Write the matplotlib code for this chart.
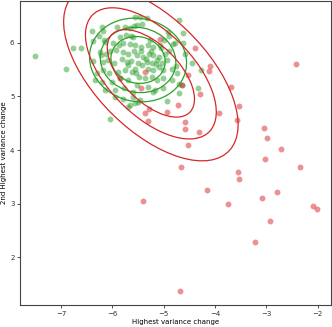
import matplotlib
matplotlib.use("Agg")
import matplotlib.pyplot as plt
from matplotlib.patches import Ellipse

# points
green_x = [-7.51, -6.90, -6.77, -6.61, -6.05, -6.40, -6.18, -6.38, -6.17, -6.23, -6.37, -6.30, -6.19,
           -6.21, -6.27, -6.14, -5.91, -5.75, -5.66, -5.58, -5.56, -5.85, -5.74, -5.64, -5.60, -5.98,
           -5.88, -5.79, -5.66, -5.55, -6.24, -6.13, -6.04, -5.92, -5.80, -5.69, -5.58, -6.08, -5.97,
           -5.82, -5.72, -5.63, -5.51, -6.18, -6.07, -5.89, -5.76, -5.62, -5.53, -6.34, -6.21, -6.01,
           -5.85, -5.70, -6.14, -5.95, -5.78, -5.60, -5.94, -5.80, -5.59, -5.65, -5.56,
           -5.46, -5.33, -4.71, -5.52, -5.43, -4.91, -4.62, -5.44, -5.31, -5.20, -5.07, -4.78, -4.58,
           -5.52, -5.40, -5.29, -5.21, -5.10, -4.97, -5.33, -5.23, -5.13, -5.04, -4.94, -5.43, -5.30,
           -5.20, -5.10, -5.01, -4.84, -4.74, -5.49, -5.36, -5.23, -5.13, -5.01, -4.84, -4.71, -5.52,
           -5.30, -5.17, -5.01, -4.65, -4.71, -4.94, -5.46,
           -4.89, -4.82, -4.63, -4.45, -4.76, -4.28, -4.34, -5.70, -5.50, -5.20,
           -5.35, -5.25, -5.45, -5.15, -5.05, -5.55, -5.27, -5.00, -4.90, -5.70]
green_y = [5.75, 5.51, 5.90, 5.90, 4.58, 6.22, 6.22, 6.03, 6.06, 5.78, 5.66, 5.44, 5.65,
           6.29, 6.13, 6.02, 6.29, 6.30, 6.27, 6.31, 6.49, 6.11, 6.15, 6.13, 6.10, 5.99,
           5.96, 6.00, 5.98, 5.96, 5.83, 5.80, 5.84, 5.86, 5.82, 5.80, 5.84, 5.68, 5.62,
           5.69, 5.65, 5.67, 5.62, 5.49, 5.43, 5.46, 5.50, 5.45, 5.43, 5.30, 5.27, 5.27,
           5.34, 5.30, 5.12, 5.12, 5.15, 5.09, 4.99, 4.96, 4.99, 4.84, 4.87,
           6.49, 6.46, 6.42, 6.33, 6.36, 6.21, 6.18, 5.93, 5.96, 5.93, 5.96, 5.99, 5.80,
           5.77, 5.74, 5.80, 5.77, 5.74, 5.80, 5.65, 5.62, 5.68, 5.62, 5.68, 5.58, 5.52,
           5.49, 5.55, 5.49, 5.52, 5.43, 5.37, 5.34, 5.37, 5.30, 5.34, 5.30, 5.24, 5.21,
           5.18, 5.12, 5.15, 5.21, 5.06, 4.92, 4.93,
           6.13, 5.97, 5.99, 5.62, 5.56, 5.49, 5.15, 4.81, 4.90, 5.09,
           5.70, 5.85, 5.85, 5.60, 5.90, 5.52, 6.05, 6.05, 5.85, 5.58]

red_x = [-4.39, -4.10, -4.12, -4.53, -2.43, -4.65, -3.69, -4.30, -3.54, -4.72, -3.92, -3.57,
         -4.94, -4.58, -4.59, -4.31, -3.05, -2.98, -4.52, -2.72, -3.02, -4.66, -2.34, -3.56,
         -3.54, -4.15, -3.74, -3.08, -2.79, -2.10, -2.01, -2.92, -3.22, -4.68, -5.40, -5.36,
         -5.44, -5.08, -5.86, -5.37, -5.28, -5.30]
red_y = [5.90, 5.57, 5.47, 5.40, 5.60, 5.22, 5.17, 5.04, 4.82, 4.84, 4.69, 4.56,
         4.71, 4.53, 4.39, 4.34, 4.42, 4.22, 4.09, 4.02, 3.83, 3.69, 3.69, 3.59,
         3.46, 3.26, 2.99, 3.10, 3.21, 2.95, 2.90, 2.67, 2.28, 1.37, 3.05, 5.46,
         5.15, 6.07, 5.35, 4.70, 4.76, 4.55]

# fitted component shapes: centre, unit width/height, angle, ring scales
green_center = (-5.50, 5.68)
green_unit = (0.38, 0.31, -10)
green_scales = [2.8, 3.9, 5.0]
red_center = (-5.25, 5.43)
red_unit = (1.05, 0.534, -43)
red_scales = [2, 3, 4]

fig = plt.figure(figsize=(3.32, 3.27), dpi=100)
ax = fig.add_axes([20/332, 22/327, 311/332, 304/327])

ax.scatter(green_x, green_y, s=18, color="tab:green", alpha=0.5, linewidths=0)
ax.scatter(red_x, red_y, s=18, color="tab:red", alpha=0.5, linewidths=0)

for center, unit, scales, col in [(green_center, green_unit, green_scales, "tab:green"),
                                  (red_center, red_unit, red_scales, "tab:red")]:
    for s in scales:
        ax.add_patch(Ellipse(center, unit[0]*s, unit[1]*s, angle=unit[2],
                             fill=False, edgecolor=col, linewidth=0.9))

ax.set_xlim(-7.8, -1.74)
ax.set_ylim(1.11, 6.78)
ax.set_xticks([-7, -6, -5, -4, -3, -2])
ax.set_yticks([2, 3, 4, 5, 6])
ax.tick_params(labelsize=5, length=2.5, width=0.6, pad=1.5, colors="#333333")
for sp in ax.spines.values():
    sp.set_color("#444444")
    sp.set_linewidth(0.8)
ax.set_xlabel("Highest variance change", fontsize=5, labelpad=2)
ax.set_ylabel("2nd Highest variance change", fontsize=5, labelpad=2)

fig.savefig("out.png", dpi=100)
